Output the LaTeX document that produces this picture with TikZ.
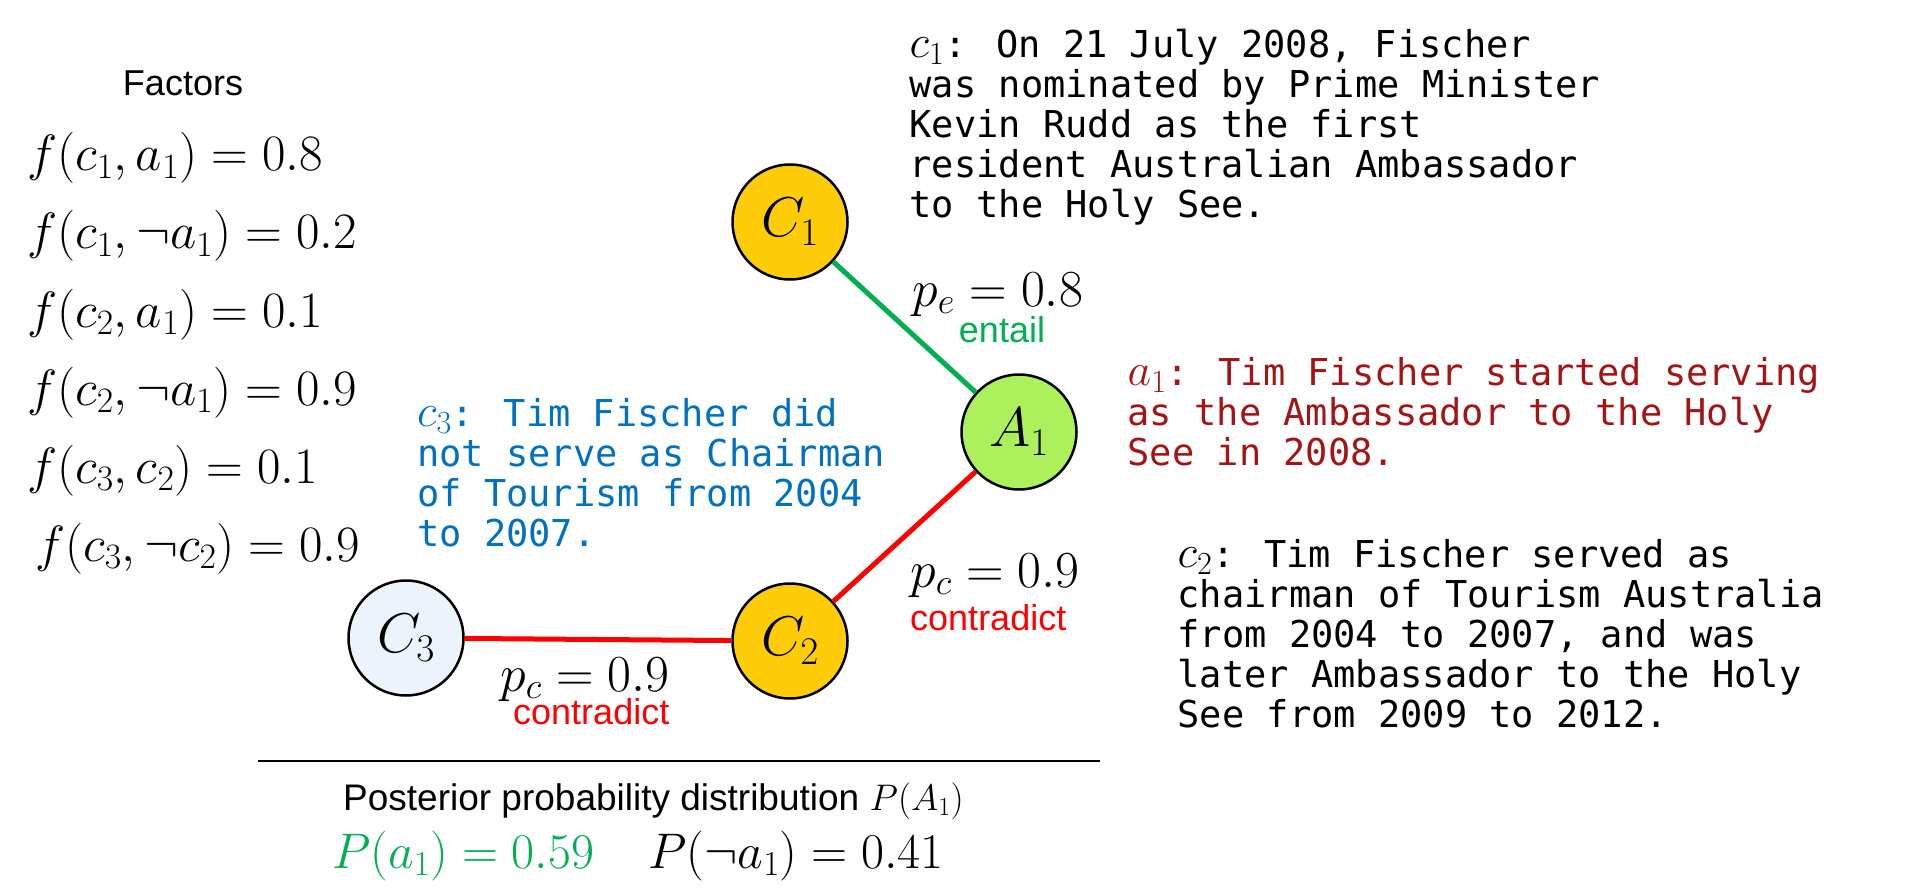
\RequirePackage{fix-cm}
\documentclass[tikz,border=0pt]{standalone}
\usepackage[no-math]{fontspec}
\setmainfont{Liberation Sans}
\newfontfamily\monof{DejaVu Sans Mono}
\newcommand{\claimvar}[2]{{\fontsize{46}{40}\selectfont$#1_{#2}$}}
\definecolor{nodeyellow}{RGB}{255,204,10}
\definecolor{nodegreen}{RGB}{172,240,92}
\definecolor{nodeblue}{RGB}{236,243,250}
\definecolor{entailgreen}{RGB}{0,176,80}
\definecolor{contrared}{RGB}{255,0,0}
\definecolor{claimred}{RGB}{164,20,20}
\definecolor{claimblue}{RGB}{0,112,192}
\tikzset{
  cnode/.style={circle, draw=black, line width=2.5pt, minimum size=115pt, inner sep=0pt,
    font=\fontsize{56}{56}\selectfont},
  gedge/.style={draw=entailgreen, line width=5pt},
  redge/.style={draw=contrared, line width=5pt},
  mtext/.style={inner sep=0pt, align=left, anchor=north west, font=\monof\fontsize{37}{40}\selectfont},
  fml/.style={inner sep=0pt, anchor=base west, font=\fontsize{51}{55}\selectfont},
  plab/.style={inner sep=0pt, anchor=base west, font=\fontsize{52}{55}\selectfont},
  slab/.style={inner sep=0pt, font=\fontsize{36}{40}\selectfont},
}
\begin{document}
\begin{tikzpicture}[x=1pt,y=-1pt]
\useasboundingbox (0,0) rectangle (1911,893);
% factors
\node[slab, anchor=base] (factors) at (183,96) {Factors};
\node[fml] (f1) at (27,171) {$f(c_1,a_1)=0.8$};
\node[fml] (f2) at (27,249) {$f(c_1,\neg a_1)=0.2$};
\node[fml] (f3) at (27,327) {$f(c_2,a_1)=0.1$};
\node[fml] (f4) at (27,405) {$f(c_2,\neg a_1)=0.9$};
\node[fml] (f5) at (27,483) {$f(c_3,c_2)=0.1$};
\node[fml] (f6) at (35,561) {$f(c_3,\neg c_2)=0.9$};
% graph nodes
\node[cnode, fill=nodeyellow] (C1) at (790,222) {$C_1$};
\node[cnode, fill=nodegreen] (A1) at (1019,432) {$A_1$};
\node[cnode, fill=nodeyellow] (C2) at (790,641) {$C_2$};
\node[cnode, fill=nodeblue] (C3) at (406,638) {$C_3$};
% edges
\draw[gedge] (C1) -- (A1);
\draw[redge] (A1) -- (C2);
\draw[redge] (C3) -- (C2);
% edge labels
\node[plab] (pe) at (912,306) {$p_e=0.8$};
\node[slab, anchor=base, text=entailgreen] (ent) at (1002,342) {entail};
\node[plab] (pc1) at (910,587) {$p_c=0.9$};
\node[slab, anchor=base west, text=contrared] (con1) at (910,630) {contradict};
\node[plab] (pc2) at (500,691) {$p_c=0.9$};
\node[slab, anchor=base west, text=contrared] (con2) at (513,724) {contradict};
% claim texts
\node[mtext] (t1) at (909.5,29) {\claimvar{c}{1}: On 21 July 2008, Fischer\\was nominated by Prime Minister\\Kevin Rudd as the first\\resident Australian Ambassador\\to the Holy See.};
\node[mtext, text=claimred] (ta) at (1127.5,357) {\claimvar{a}{1}: Tim Fischer started serving\\as the Ambassador to the Holy\\See in 2008.};
\node[mtext, text=claimblue] (t3) at (417,398) {\claimvar{c}{3}: Tim Fischer did\\not serve as Chairman\\of Tourism from 2004\\to 2007.};
\node[mtext] (t2) at (1177.5,539) {\claimvar{c}{2}: Tim Fischer served as\\chairman of Tourism Australia\\from 2004 to 2007, and was\\later Ambassador to the Holy\\See from 2009 to 2012.};
% posterior
\draw[line width=2.5pt] (258,761) -- (1100,761);
\node[slab, anchor=base west, font=\fontsize{37}{40}\selectfont] (post) at (343,810) {Posterior probability distribution $P(A_1)$};
\node[fml, text=entailgreen, font=\fontsize{50}{55}\selectfont] (pa) at (332,868) {$P(a_1)=0.59$};
\node[fml, font=\fontsize{50}{55}\selectfont] (pna) at (648,868) {$P(\neg a_1)=0.41$};
\end{tikzpicture}
\end{document}
